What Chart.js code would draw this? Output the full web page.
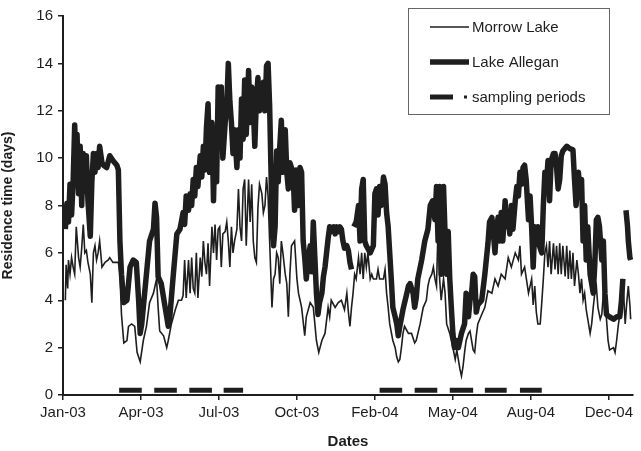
<!DOCTYPE html>
<html>
<head>
<meta charset="utf-8">
<title>Residence time</title>
<script src="https://cdn.jsdelivr.net/npm/chart.js@4.4.0/dist/chart.umd.min.js"></script>
<style>
  html, body { margin: 0; padding: 0; background: #fff; }
  #wrap { width: 641px; height: 451px; }
</style>
</head>
<body>
<div id="wrap"><canvas id="chart" width="641" height="451"></canvas></div>
<script>
// Day numbers count from 1 Jan 2003
const tickDays = [0, 100, 200, 300, 400, 500, 600, 700];
const tickLabels = ['Jan-03', 'Apr-03', 'Jul-03', 'Oct-03', 'Feb-04', 'May-04', 'Aug-04', 'Dec-04'];

const morrowDays = [
  3, 4, 6, 7, 9, 11, 13, 15, 17, 20, 22, 24, 26, 28, 30, 32, 35, 37, 39, 41, 43, 45, 47, 50, 54, 58, 60, 64, 69, 71,
  73, 75, 78, 82, 84, 88, 92, 95, 99, 103, 107, 111, 116, 120, 122, 124, 129, 133, 135, 139, 144, 148, 152, 154, 156,
  158, 161, 163, 165, 167, 169, 171, 173, 176, 178, 180, 182, 184, 186, 188, 191, 193, 195, 197, 199, 201, 203, 205,
  208, 210, 212, 214, 216, 218, 220, 223, 225, 227, 229, 231, 233, 235, 238, 240, 242, 244, 246, 248, 250, 252, 255,
  257, 259, 261, 263, 265, 268, 270, 272, 274, 276, 278, 280, 282, 285, 287, 289, 291, 293, 297, 300, 302, 306, 310,
  312, 317, 321, 325, 328, 332, 336, 340, 342, 344, 349, 353, 357, 361, 364, 366, 368, 370, 372, 374, 376, 379, 381,
  383, 385, 387, 389, 391, 394, 396, 398, 402, 404, 406, 411, 413, 415, 417, 419, 423, 426, 428, 430, 432, 434, 436,
  438, 443, 447, 451, 453, 458, 462, 466, 468, 470, 473, 475, 477, 479, 481, 483, 485, 488, 490, 492, 496, 498, 500,
  503, 505, 507, 509, 511, 513, 515, 517, 520, 522, 524, 526, 528, 530, 532, 537, 541, 545, 550, 554, 558, 562, 567,
  571, 575, 580, 584, 586, 588, 592, 597, 601, 603, 605, 607, 609, 612, 614, 616, 618, 620, 622, 624, 626, 629, 631,
  633, 635, 637, 639, 641, 644, 646, 648, 650, 652, 654, 656, 659, 661, 663, 665, 667, 669, 671, 674, 676, 678, 680,
  682, 684, 686, 689, 691, 693, 697, 699, 701, 706, 708, 710, 712, 714, 716, 718, 721, 723, 725, 727, 728
];
const morrowResidence = [
  4.0, 5.5, 4.5, 5.7, 5.1, 5.8, 5.4, 5.1, 7.1, 5.8, 5.4, 6.2, 7.2, 6.0, 6.1, 5.6, 5.1, 3.9, 6.0, 6.3, 5.7, 6.0, 6.5, 5.4, 5.6, 5.7, 5.8, 5.6, 5.6, 5.6,
  5.1, 3.4, 2.2, 2.3, 2.9, 3.0, 2.9, 1.8, 1.4, 2.3, 2.9, 3.9, 4.3, 4.9, 3.7, 2.7, 2.5, 2.0, 2.3, 3.0, 3.6, 4.0, 4.0, 4.2, 5.7,
  4.1, 5.7, 4.3, 5.8, 4.5, 4.3, 6.0, 4.1, 5.8, 5.0, 6.5, 5.6, 5.1, 6.4, 4.6, 7.1, 6.0, 7.2, 5.7, 7.0, 7.1, 5.4, 6.8,
  6.9, 7.3, 6.5, 5.4, 7.1, 6.0, 6.5, 7.0, 8.7, 7.1, 6.5, 8.7, 9.1, 6.3, 9.1, 7.3, 8.9, 6.5, 5.8, 5.6, 7.9, 8.9, 8.5,
  7.7, 8.0, 9.2, 8.4, 6.5, 3.7, 4.9, 5.1, 6.0, 5.8, 4.7, 6.5, 6.0, 5.1, 4.7, 3.3, 5.1, 6.3, 6.5, 4.9, 4.3, 3.7, 2.5,
  3.3, 3.9, 3.7, 2.3, 1.8, 2.3, 2.6, 3.7, 3.3, 4.0, 3.7, 3.9, 4.0, 3.6, 4.3, 3.5, 2.9, 3.7, 4.3, 5.1, 4.9, 5.8, 5.1,
  6.0, 4.9, 6.0, 5.4, 6.0, 4.9, 5.1, 4.9, 4.9, 5.3, 4.9, 4.9, 5.3, 4.3, 3.7, 3.0, 2.3, 2.0, 1.6, 1.4, 1.5, 2.0, 2.6,
  2.9, 2.6, 2.6, 2.2, 2.3, 3.0, 3.7, 4.0, 4.6, 4.9, 5.1, 5.4, 4.9, 4.6, 7.1, 4.9, 4.0, 4.9, 4.3, 3.0, 2.6, 2.3, 2.0,
  1.5, 1.9, 1.5, 1.1, 0.8, 1.2, 1.8, 2.3, 2.6, 2.7, 2.3, 1.9, 1.8, 2.5, 3.0, 3.4, 3.7, 4.4, 4.3, 4.9, 4.6, 5.1, 4.9,
  5.8, 5.4, 6.0, 5.7, 6.3, 5.1, 5.4, 4.3, 4.9, 3.8, 4.6, 3.5, 3.0, 3.0, 3.9, 4.9, 6.0, 6.3, 5.4, 6.5, 5.1, 6.4, 5.3,
  6.3, 5.1, 6.4, 5.1, 6.3, 5.0, 6.3, 4.9, 6.1, 4.9, 6.0, 4.6, 5.7, 5.1, 4.3, 4.9, 4.0, 4.3, 3.6, 3.0, 2.6, 3.0, 3.7,
  4.3, 4.6, 3.7, 3.2, 3.4, 4.3, 3.2, 2.3, 1.9, 2.0, 1.8, 2.3, 2.9, 3.4, 4.0, 4.9, 3.0, 3.9, 4.6, 3.8, 3.2
];

// null marks the breaks in the Lake Allegan record
const alleganDays = [
  3, 5, 7, 9, 11, 13, 15, 17, 18, 20, 22, 24, 26, 28, 30, 32, 35, 37, 39, 41, 43, 45, 47, 50, 52, 56, 60, 64, 69, 71,
  73, 75, 78, 82, 86, 90, 94, 97, 99, 101, 103, 107, 111, 116, 118, 120, 122, 126, 131, 135, 137, 141, 146, 150, 154,
  156, 158, 161, 163, 165, 167, 169, 171, 173, 176, 178, 180, 182, 184, 186, 188, 191, 193, 195, 197, 199, 201, 203,
  205, 208, 210, 212, 214, 216, 218, 220, 223, 225, 227, 229, 231, 233, 235, 238, 240, 242, 244, 246, 248, 250, 252,
  255, 257, 259, 261, 263, 265, 267, 268, 270, 272, 274, 276, 278, 280, 282, 285, 287, 289, 291, 293, 295, 297, 299,
  302, 304, 306, 308, 310, 312, 314, 317, 319, 321, 323, 325, 327, 329, 332, 334, 336, 338, 340, 342, 344, 347, 349,
  351, 353, 355, 357, 359, 361, 364, 366, 368, 370, 371, 373, 376, 379, 381, 383, 385, 387, 389, 394, 398, 400, 402,
  404, 406, 408, 411, 413, 415, 417, 419, 421, 423, 426, 428, 430, 432, 436, 441, 443, 445, 449, 451, 453, 455, 460,
  464, 468, 471, 474, 477, 479, 481, 483, 485, 488, 490, 492, 494, 496, 498, 500, 502, 505, 507, 511, 515, 517, 520,
  522, 524, 526, 528, 530, 532, 537, 541, 545, 547, 550, 552, 554, 556, 558, 560, 562, 564, 567, 569, 571, 573, 575,
  577, 580, 582, 584, 586, 588, 590, 592, 594, 597, 599, 601, 603, 605, 607, 609, 611, 614, 616, 618, 620, 622, 624,
  626, 629, 631, 633, 635, 637, 639, 641, 646, 650, 654, 656, 658, 661, 663, 665, 667, 669, 671, 673, 676, 680, 682,
  684, 686, 688, 691, 693, 695, 697, 701, 706, 710, 714, 716, 718, 720, 722, 724, 725, 727, 728
];
const alleganResidence = [
  7.0, 8.1, 7.3, 8.9, 7.6, 9.0, 11.4, 9.3, 11.0, 8.5, 10.5, 8.0, 10.2, 8.6, 10.1, 8.2, 6.7, 9.0, 10.2, 9.4, 10.2, 9.6, 10.5, 9.8, 9.7, 9.6, 10.1, 9.9, 9.7, 9.5,
  6.5, 5.1, 3.9, 4.0, 5.4, 5.7, 5.6, 4.0, 2.6, 3.0, 3.7, 5.1, 6.5, 7.0, 8.1, 7.5, 5.0, 4.7, 3.7, 2.9, 3.3, 4.9, 6.8, 7.0, 7.7,
  7.2, 8.4, 7.8, 8.5, 8.0, 9.1, 8.4, 9.6, 8.8, 10.1, 9.2, 10.5, 9.5, 11.3, 12.3, 9.4, 11.5, 8.2, 10.8, 9.0, 13.0, 10.5, 13.0,
  10.0, 11.5, 12.2, 14.0, 12.4, 11.5, 10.2, 11.2, 9.6, 11.2, 10.0, 12.5, 10.8, 13.3, 11.0, 13.7, 11.5, 13.0, 12.2, 10.5, 12.5, 13.4, 12.0,
  12.7, 13.2, 12.0, 13.9, 14.0, 12.2, 9.1, 7.0, 6.3, 7.1, 10.3, 9.0, 10.5, 11.6, 9.4, 11.2, 9.4, 8.7, 9.8, 9.6, 9.4, 7.8, 9.5,
  8.0, 9.6, 9.4, 6.5, 5.8, 4.9, 5.6, 6.3, 5.2, 7.3, 5.8, 4.3, 3.4, 3.9, 4.3, 5.0, 5.4, 6.0, 6.6, 7.1, 6.9, 7.1, 6.8,
  7.1, 6.9, 7.1, 7.0, 6.5, 6.2, 6.3, 6.1, 5.6, 5.3, null, 7.1, 7.3, 8.0, 6.5, 8.7, 9.1, 6.5, 6.3, 6.0, 6.3, 8.5, 8.7,
  7.6, 8.8, 8.0, 9.2, 8.9, 7.7, 7.1, 6.0, 4.9, 3.7, 3.3, 3.0, 2.5, 2.9, 3.6, 4.3, 4.6, 4.7, 4.3, 3.7, 4.1, 4.9, 5.7,
  6.5, 7.0, 8.0, 8.2, 7.4, 8.8, 6.5, 8.8, 5.1, 8.8, 6.8, 5.1, 6.9, 4.9, 3.7, 2.6, 2.0, 2.3, 2.0, 2.6, 3.0, 4.3, 3.3,
  4.0, 4.3, 5.1, 5.0, 3.5, 3.8, 4.0, 5.1, 6.4, 7.3, 7.5, 6.8, 6.0, 7.0, 7.5, 6.5, 7.7, 6.5, 8.2, 7.1, 7.7, 6.8, 8.0,
  7.0, 8.2, 8.8, 8.4, 9.4, 8.9, 9.6, 9.7, 9.1, 7.4, 8.4, 7.1, 5.4, 7.1, 6.5, 7.1, 6.3, 6.0, 8.0, 9.4, 8.9, 9.9, 8.2,
  9.9, 10.2, 10.2, 9.6, 8.7, 9.1, 10.1, 10.3, 10.5, 10.4, 10.35, 9.1, 8.0, 9.4, 8.5, 9.1, 6.5, 8.0, 5.7, 7.1, 5.1, 4.3, 5.5,
  7.4, 7.5, 7.1, 5.7, 6.5, 4.3, 3.4, 3.3, 3.2, 3.3, 3.3, 3.9, 4.9, null, 7.8, 7.1, 6.5, 5.8, 5.7
];

// sampling campaigns (start / end day), drawn just above the axis
const samplingStart = [72, 117, 162, 206, 406, 451, 496, 541, 586];
const samplingEnd = [101, 146, 191, 231, 435, 480, 526, 569, 614];
const samplingLevel = 0.2;

const monthNames = ['Jan', 'Feb', 'Mar', 'Apr', 'May', 'Jun', 'Jul', 'Aug', 'Sep', 'Oct', 'Nov', 'Dec'];
function dayLabel(day) {
    const i = tickDays.indexOf(day);
    if (i !== -1) return tickLabels[i];
    const d = new Date(Date.UTC(2003, 0, 1) + day * 86400000);
    return monthNames[d.getUTCMonth()] + '-' + String(d.getUTCFullYear()).slice(2);
}

const toPoints = (days, values) => days.map((d, i) => ({ x: d, y: values[i] }));

const samplingPoints = [];
samplingStart.forEach((s, i) => {
    samplingPoints.push({ x: s, y: samplingLevel }, { x: samplingEnd[i], y: samplingLevel });
    if (i < samplingStart.length - 1) samplingPoints.push({ x: samplingEnd[i] + 1, y: null });
});

const ink = '#1e1e1e';
const fontFamily = '"Liberation Sans", Arial, sans-serif';

// legend drawn as a framed box in the upper right of the plot
const legendBox = {
    id: 'legendBox',
    afterDraw(chart) {
        const ctx = chart.ctx;
        const ds = chart.data.datasets;
        ctx.save();
        ctx.strokeStyle = '#666';
        ctx.lineWidth = 1;
        ctx.fillStyle = '#fff';
        ctx.fillRect(408.5, 8.5, 201, 106);
        ctx.strokeRect(408.5, 8.5, 201, 106);

        const rows = [27, 62, 97];
        ctx.font = '15px ' + fontFamily;
        ctx.textBaseline = 'middle';
        ds.forEach((d, i) => {
            const y = rows[i];
            ctx.strokeStyle = d.borderColor;
            ctx.lineWidth = d.borderWidth;
            ctx.lineCap = 'butt';
            ctx.beginPath();
            if (i === 2) {
                ctx.moveTo(430, y);
                ctx.lineTo(453, y);
                ctx.stroke();
                ctx.fillStyle = d.borderColor;
                ctx.fillRect(464, y - 1.5, 3, 3);
            } else {
                ctx.moveTo(430, y);
                ctx.lineTo(469, y);
                ctx.stroke();
            }
            ctx.fillStyle = ink;
            ctx.fillText(d.label, 472, y + 1);
        });
        ctx.restore();
    }
};

const chart = new Chart(document.getElementById('chart'), {
    type: 'line',
    data: {
        datasets: [{
            label: 'Morrow Lake',
            data: toPoints(morrowDays, morrowResidence),
            borderColor: ink,
            borderWidth: 1.6,
            pointRadius: 0,
            tension: 0,
            order: 2
        }, {
            label: 'Lake Allegan',
            data: toPoints(alleganDays, alleganResidence),
            borderColor: ink,
            borderWidth: 5.5,
            borderJoinStyle: 'round',
            pointRadius: 0,
            tension: 0,
            order: 1
        }, {
            label: 'sampling periods',
            data: samplingPoints,
            borderColor: ink,
            borderWidth: 5,
            borderCapStyle: 'butt',
            pointRadius: 0,
            order: 0
        }]
    },
    options: {
        responsive: false,
        animation: false,
        devicePixelRatio: 1,
        layout: { padding: { top: 16, right: 8, left: 0, bottom: 0 } },
        plugins: { legend: { display: false }, tooltip: { enabled: false } },
        scales: {
            x: {
                type: 'linear',
                min: 0,
                max: 731,
                border: { color: ink, width: 2 },
                grid: { drawOnChartArea: false, drawTicks: true, tickLength: 5, color: ink, lineWidth: 1.5 },
                afterBuildTicks: (scale) => { scale.ticks = tickDays.map(v => ({ value: v })); },
                afterFit: (scale) => { scale.height = 56; },
                ticks: {
                    autoSkip: false,
                    maxRotation: 0,
                    padding: 4,
                    color: ink,
                    font: { family: fontFamily, size: 15 },
                    callback: (v) => dayLabel(v)
                },
                title: {
                    display: true,
                    text: 'Dates',
                    color: ink,
                    padding: { top: 5, bottom: 0 },
                    font: { family: fontFamily, size: 15, weight: 'bold' }
                }
            },
            y: {
                min: 0,
                max: 16,
                border: { color: ink, width: 2 },
                grid: { drawOnChartArea: false, drawTicks: true, tickLength: 5, color: ink, lineWidth: 1.5 },
                afterFit: (scale) => { scale.width = 63; },
                ticks: {
                    stepSize: 2,
                    padding: 5,
                    color: ink,
                    font: { family: fontFamily, size: 15 }
                },
                title: {
                    display: true,
                    text: 'Residence time (days)',
                    color: ink,
                    padding: { top: 0, bottom: 2 },
                    font: { family: fontFamily, size: 14, weight: 'bold' }
                }
            }
        }
    },
    plugins: [legendBox]
});
</script>
</body>
</html>
